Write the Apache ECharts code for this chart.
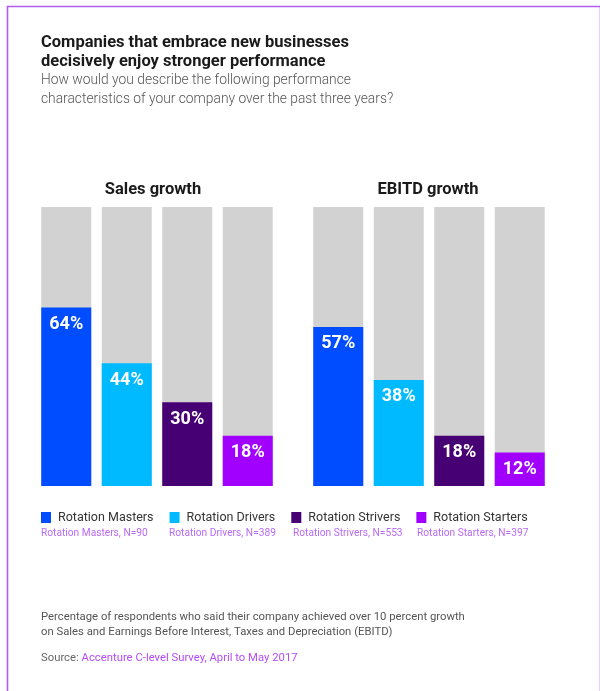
<!DOCTYPE html>
<html>
<head>
<meta charset="utf-8">
<script src="https://cdn.jsdelivr.net/npm/echarts@6/dist/echarts.min.js"></script>
<style>
  html, body { margin: 0; padding: 0; background: #fff; }
  #chart { width: 600px; height: 691px; }
</style>
</head>
<body>
<div id="chart"></div>
<script>
// Respondent groups and their share reporting >10% growth
const groups = ['Rotation Masters', 'Rotation Drivers', 'Rotation Strivers', 'Rotation Starters'];
const groupCounts = ['N=90', 'N=389', 'N=553', 'N=397'];
const groupColors = ['#004dff', '#00baff', '#460073', '#a100ff'];
const salesGrowth = [64, 44, 30, 18];
const ebitdGrowth = [57, 38, 18, 12];
const panelTitles = ['Sales growth', 'EBITD growth'];
const fullScale = [100, 100, 100, 100];

const FONT = 'Roboto, "Noto Sans", sans-serif';
const chart = echarts.init(document.getElementById('chart'));

const panels = [salesGrowth, ebitdGrowth];
const grids = [
  { left: 36, top: 207, width: 242, height: 279 },
  { left: 308, top: 207, width: 242, height: 279 }
];

const xAxes = grids.map((g, i) => ({
  type: 'category', gridIndex: i, data: groups,
  axisLine: { show: false }, axisTick: { show: false }, axisLabel: { show: false }
}));
const yAxes = grids.map((g, i) => ({
  type: 'value', gridIndex: i, min: 0, max: 100,
  axisLine: { show: false }, axisTick: { show: false }, axisLabel: { show: false },
  splitLine: { show: false }
}));

const series = [];
panels.forEach((vals, p) => {
  // grey full-height track behind each bar
  series.push({
    type: 'bar', name: 'track' + p, xAxisIndex: p, yAxisIndex: p,
    data: fullScale, barWidth: 50, barGap: '-100%', silent: true,
    itemStyle: { color: '#d2d2d2' }, z: 1
  });
  groups.forEach((name, k) => {
    series.push({
      type: 'bar', name: name, xAxisIndex: p, yAxisIndex: p, stack: 'v' + p,
      barWidth: 50, z: 2,
      data: vals.map((v, j) => (j === k ? v : '-')),
      itemStyle: { color: groupColors[k] },
      label: {
        show: true, position: 'insideTop', distance: 8,
        formatter: '{c}%', color: '#fff', fontFamily: FONT,
        fontWeight: 'bold', fontSize: 18
      }
    });
  });
});

const noteX = [41, 169, 293, 417];

chart.setOption({
  animation: false,
  textStyle: { fontFamily: FONT },
  title: [
    {
      text: 'Companies that embrace new businesses\ndecisively enjoy stronger performance',
      left: 41, top: 33, padding: 0,
      textStyle: { fontSize: 16.5, fontWeight: 'bold', color: '#1a1a1a', lineHeight: 19, fontFamily: FONT },
      subtext: 'How would you describe the following performance\ncharacteristics of your company over the past three years?',
      subtextStyle: { fontSize: 13.8, fontWeight: 300, color: '#555', lineHeight: 19, fontFamily: FONT },
      itemGap: 0
    },
    { text: panelTitles[0], left: 153, top: 181, textAlign: 'center', padding: 0,
      textStyle: { fontSize: 16.5, fontWeight: 'bold', color: '#1a1a1a', fontFamily: FONT } },
    { text: panelTitles[1], left: 428, top: 181, textAlign: 'center', padding: 0,
      textStyle: { fontSize: 16.5, fontWeight: 'bold', color: '#1a1a1a', fontFamily: FONT } }
  ],
  legend: {
    data: groups, left: 41, top: 511, padding: 0, itemWidth: 10, itemHeight: 11, itemGap: 16,
    icon: 'rect', selectedMode: false,
    textStyle: { fontSize: 12.5, color: '#333', fontFamily: FONT, padding: [0, 0, 0, 2] }
  },
  grid: grids,
  xAxis: xAxes,
  yAxis: yAxes,
  series: series,
  graphic: [
    { type: 'rect', left: 5, top: 4, shape: { width: 593, height: 700 },
      style: { fill: 'none', stroke: '#b05cf5', lineWidth: 1.6 }, silent: true },
    ...groups.map((g, k) => ({
      type: 'text', left: noteX[k], top: 528,
      style: { text: g + ', ' + groupCounts[k], fill: '#b96af5', fontSize: 10.2, fontFamily: FONT }
    })),
    { type: 'text', left: 41, top: 610,
      style: { text: 'Percentage of respondents who said their company achieved over 10 percent growth\non Sales and Earnings Before Interest, Taxes and Depreciation (EBITD)',
        fill: '#555', fontSize: 11.3, lineHeight: 15, fontFamily: FONT } },
    { type: 'text', left: 41, top: 653,
      style: { text: '{g|Source: }{p|Accenture C-level Survey, April to May 2017}',
        rich: { g: { fill: '#666', fontSize: 11.3, fontFamily: FONT }, p: { fill: '#b44cf5', fontSize: 11.3, fontFamily: FONT } } } }
  ]
});
</script>
</body>
</html>
